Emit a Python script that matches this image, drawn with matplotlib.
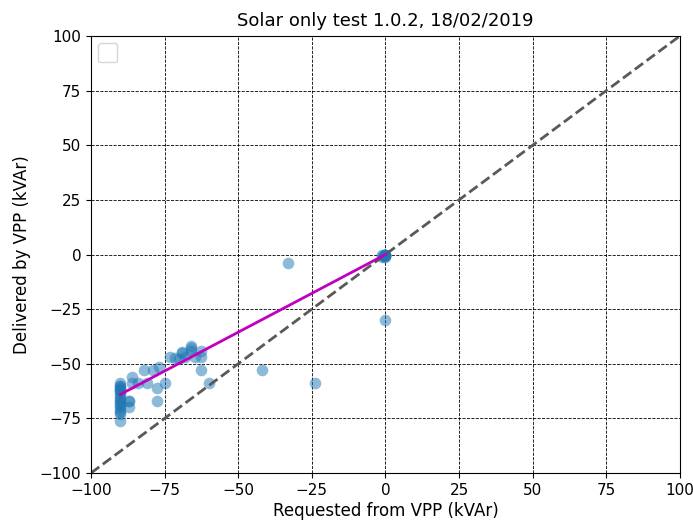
import matplotlib
matplotlib.use("Agg")
import matplotlib.pyplot as plt
import numpy as np

title = "Solar only test 1.0.2, 18/02/2019"
xlabel = "Requested from VPP (kVAr)"
ylabel = "Delivered by VPP (kVAr)"

requested = [-90, -90, -90, -90, -90, -90, -90, -90, -90, -90, -90, -90, -90,
             -90, -90, -90, -90, -90,
             -87, -87, -87, -86, -86, -84, -82, -81, -79, -77.5, -77.5, -77,
             -75, -73, -71.5, -70, -69, -69, -68, -66, -66, -66, -64.7, -62.6,
             -62.6, -62.6, -60, -42, -24, -33, 0,
             0, 0, 0, 0, 0, -1, -0.5, -1, 0, 0, -0.5]
delivered = [-59, -60, -61, -62, -63, -65, -66, -67, -69, -71, -72, -73, -76,
             -60, -62, -64, -68, -70,
             -67, -67, -70, -59, -56, -59, -53, -59, -53, -61, -67, -51.5,
             -59, -47, -47.4, -48, -44.6, -45, -47, -42, -43, -44, -47, -44,
             -47, -53, -59, -53, -59, -4, -30,
             0, 0, 0, 0, 0, -1, 0, 0, -1, -0.5, -0.5]

fit_x = [-90, 0]
fit_y = [-64, 0]

ticks = [-100, -75, -50, -25, 0, 25, 50, 75, 100]

fig = plt.figure(figsize=(6.93, 5.25), dpi=100)
ax = fig.add_axes([0.1313, 0.099, 0.8497, 0.8324])

ax.scatter(requested, delivered, s=70, alpha=0.5, color="tab:blue", linewidths=0)
ax.plot([-100, 100], [-100, 100], ls="--", color="0.35", lw=2)
ax.plot(fit_x, fit_y, color="m", lw=2)

ax.set_xlim(-100, 100)
ax.set_ylim(-100, 100)
ax.set_xticks(ticks)
ax.set_yticks(ticks)
ax.tick_params(labelsize=11)
ax.grid(True, color="black", ls="--", lw=0.6)
ax.set_axisbelow(True)
ax.set_title(title, fontsize=13, pad=7)
ax.set_xlabel(xlabel, fontsize=12, labelpad=3)
ax.set_ylabel(ylabel, fontsize=12, labelpad=6)
ax.legend(handles=[], loc="upper left", borderpad=0.7)

fig.savefig("out.png", dpi=100)
